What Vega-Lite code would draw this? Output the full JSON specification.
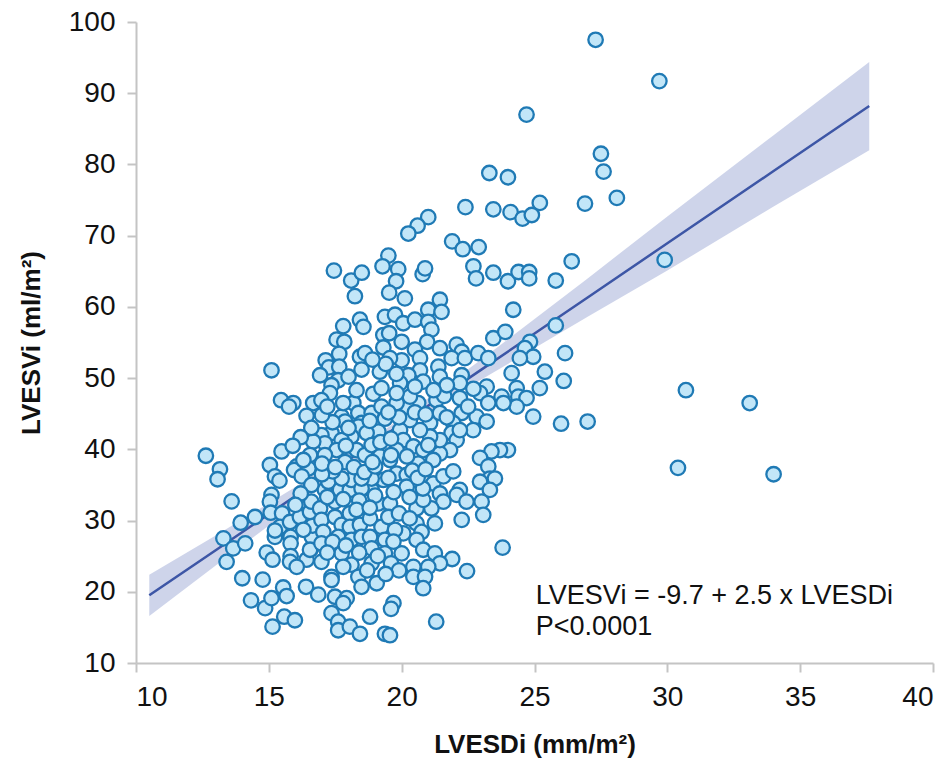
{
  "$schema": "https://vega.github.io/schema/vega-lite/v6.json",
  "width": 797,
  "height": 641,
  "autosize": {"type": "none"},
  "padding": {"left": 136, "top": 22, "right": 19, "bottom": 108},
  "background": "white",
  "config": {
    "view": {"stroke": null},
    "font": "Liberation Sans",
    "axis": {
      "grid": false,
      "domainColor": "#c4c4c4",
      "domainWidth": 2,
      "tickColor": "#c4c4c4",
      "tickWidth": 2,
      "tickSize": 9,
      "labelFont": "Liberation Sans",
      "labelFontSize": 28,
      "labelColor": "#111111",
      "titleFont": "Liberation Sans",
      "titleFontSize": 26,
      "titleFontWeight": "bold",
      "titleColor": "#111111"
    }
  },
  "datasets": {
    "pts": [
      {"x":27.3,"y":97.5},{"x":29.7,"y":91.7},{"x":24.7,"y":87.0},{"x":27.5,"y":81.5},{"x":27.6,"y":79.0},
      {"x":23.3,"y":78.8},{"x":24.0,"y":78.2},{"x":26.9,"y":74.5},{"x":28.1,"y":75.3},{"x":25.2,"y":74.6},
      {"x":23.45,"y":73.7},{"x":24.1,"y":73.3},{"x":24.55,"y":72.4},{"x":24.9,"y":72.9},{"x":22.4,"y":74.0},
      {"x":21.0,"y":72.6},{"x":20.6,"y":71.4},{"x":20.25,"y":70.3},{"x":26.4,"y":66.4},{"x":29.9,"y":66.6},
      {"x":21.9,"y":69.2},{"x":22.3,"y":68.1},{"x":22.9,"y":68.4},{"x":22.7,"y":65.7},{"x":22.8,"y":64.0},
      {"x":23.45,"y":64.8},{"x":24.0,"y":63.6},{"x":24.4,"y":64.9},{"x":24.8,"y":64.9},{"x":24.8,"y":64.0},
      {"x":25.8,"y":63.7},{"x":25.8,"y":57.4},{"x":24.2,"y":59.6},{"x":23.45,"y":55.6},{"x":23.9,"y":56.5},
      {"x":24.83,"y":55.1},{"x":24.64,"y":54.2},{"x":24.95,"y":53.0},{"x":24.45,"y":52.8},{"x":24.14,"y":50.7},
      {"x":25.39,"y":50.9},{"x":26.15,"y":53.5},{"x":26.1,"y":49.6},{"x":23.2,"y":48.8},{"x":22.95,"y":47.9},
      {"x":23.26,"y":46.5},{"x":23.76,"y":47.4},{"x":24.33,"y":48.6},{"x":24.39,"y":47.4},{"x":24.7,"y":47.2},
      {"x":24.33,"y":46.0},{"x":23.83,"y":46.5},{"x":25.2,"y":48.6},{"x":24.95,"y":44.6},{"x":26.0,"y":43.6},
      {"x":27.0,"y":43.9},{"x":30.7,"y":48.3},{"x":33.1,"y":46.5},{"x":30.4,"y":37.4},{"x":34.0,"y":36.5},
      {"x":24.0,"y":39.9},{"x":23.7,"y":39.9},{"x":23.38,"y":39.7},{"x":22.95,"y":38.8},{"x":23.26,"y":37.6},
      {"x":23.32,"y":35.9},{"x":23.51,"y":35.9},{"x":22.95,"y":35.45},{"x":23.32,"y":34.3},{"x":23.01,"y":32.65},
      {"x":23.07,"y":30.8},{"x":23.8,"y":26.2},{"x":22.46,"y":22.9},{"x":21.9,"y":24.6},{"x":21.3,"y":15.8},
      {"x":17.45,"y":65.1},{"x":18.1,"y":63.7},{"x":18.5,"y":64.8},{"x":18.24,"y":61.5},{"x":19.5,"y":67.2},
      {"x":19.28,"y":65.7},{"x":19.87,"y":65.3},{"x":19.79,"y":63.6},{"x":19.53,"y":62.0},{"x":20.12,"y":61.2},
      {"x":20.79,"y":64.6},{"x":20.88,"y":65.4},{"x":18.43,"y":58.2},{"x":18.56,"y":57.2},{"x":17.8,"y":57.3},
      {"x":19.37,"y":58.6},{"x":19.31,"y":56.05},{"x":19.53,"y":56.3},{"x":19.75,"y":58.9},{"x":20.06,"y":57.7},
      {"x":20.5,"y":58.2},{"x":21.0,"y":59.6},{"x":21.44,"y":61.0},{"x":21.5,"y":59.3},{"x":21.0,"y":57.9},
      {"x":21.12,"y":56.8},
      {"x":17.55,"y":55.4},{"x":17.84,"y":55.1},{"x":17.65,"y":53.4},{"x":17.14,"y":52.5},{"x":17.26,"y":51.5},
      {"x":17.65,"y":51.6},{"x":16.93,"y":50.4},{"x":17.61,"y":49.7},{"x":17.36,"y":49.0},{"x":17.3,"y":47.9},
      {"x":18.43,"y":53.0},{"x":18.49,"y":51.2},{"x":18.62,"y":53.5},{"x":19.18,"y":50.9},{"x":19.31,"y":54.3},
      {"x":15.1,"y":51.1},{"x":15.46,"y":46.9},{"x":15.92,"y":46.5},{"x":15.76,"y":46.0},{"x":16.67,"y":46.5},
      {"x":16.98,"y":46.9},{"x":16.42,"y":44.7},{"x":18.93,"y":47.8},{"x":19.24,"y":48.6},{"x":18.18,"y":46.5},
      {"x":18.37,"y":45.1},{"x":17.74,"y":44.6},{"x":17.87,"y":43.9},{"x":18.49,"y":43.7},{"x":18.87,"y":45.1},
      {"x":19.24,"y":46.0},{"x":19.37,"y":44.3},{"x":19.12,"y":42.5},{"x":18.37,"y":43.2},{"x":18.68,"y":42.3},
      {"x":18.11,"y":41.8},{"x":17.36,"y":42.3},{"x":16.98,"y":42.0},{"x":17.11,"y":40.85},{"x":16.67,"y":41.1},
      {"x":17.74,"y":41.3},{"x":17.55,"y":39.9},{"x":17.11,"y":39.2},{"x":17.87,"y":38.2},{"x":18.3,"y":39.9},
      {"x":18.62,"y":39.2},{"x":18.87,"y":40.6},{"x":19.18,"y":39.0},{"x":16.55,"y":39.2},{"x":15.48,"y":39.7},
      {"x":15.04,"y":37.8},{"x":16.05,"y":37.6},{"x":16.49,"y":37.3},
      {"x":20.96,"y":55.1},{"x":20.0,"y":55.1},{"x":21.44,"y":54.2},{"x":20.5,"y":54.0},{"x":22.07,"y":54.7},
      {"x":22.26,"y":53.7},{"x":21.88,"y":52.8},{"x":22.38,"y":52.8},{"x":22.88,"y":53.5},{"x":23.26,"y":52.8},
      {"x":20.69,"y":52.8},{"x":20.0,"y":52.5},{"x":19.56,"y":52.8},{"x":21.38,"y":51.6},{"x":21.44,"y":50.2},
      {"x":20.69,"y":51.1},{"x":20.25,"y":50.4},{"x":19.94,"y":49.3},{"x":20.81,"y":49.5},{"x":22.26,"y":50.4},
      {"x":22.19,"y":49.3},{"x":22.19,"y":47.2},{"x":22.26,"y":45.1},{"x":22.82,"y":44.6},{"x":23.2,"y":43.9},
      {"x":22.69,"y":42.7},{"x":21.94,"y":43.7},{"x":21.88,"y":42.3},{"x":22.07,"y":41.3},{"x":21.82,"y":39.9},
      {"x":21.44,"y":39.4},{"x":21.44,"y":41.3},{"x":21.07,"y":43.7},{"x":21.07,"y":41.8},{"x":20.69,"y":42.7},
      {"x":20.31,"y":44.1},{"x":20.62,"y":46.5},{"x":20.19,"y":46.0},{"x":19.81,"y":46.5},{"x":20.31,"y":47.4},
      {"x":19.81,"y":47.9},{"x":21.31,"y":46.9},{"x":21.44,"y":45.1},{"x":22.19,"y":42.7},{"x":19.94,"y":42.7},
      {"x":20.06,"y":41.3},{"x":20.44,"y":40.4},{"x":20.81,"y":39.9},{"x":21.19,"y":38.5},{"x":20.62,"y":38.0},
      {"x":19.81,"y":39.9},{"x":19.56,"y":38.5},
      {"x":12.63,"y":39.1},{"x":13.16,"y":37.2},{"x":13.07,"y":35.8},{"x":13.6,"y":32.7},{"x":15.23,"y":36.2},
      {"x":15.4,"y":35.6},{"x":15.1,"y":33.6},{"x":15.04,"y":32.65},{"x":15.95,"y":37.1},{"x":16.24,"y":36.2},
      {"x":14.48,"y":30.5},{"x":13.94,"y":29.7},{"x":15.07,"y":31.1},{"x":15.5,"y":31.0},{"x":13.29,"y":27.5},
      {"x":13.66,"y":26.1},{"x":14.11,"y":26.8},{"x":13.41,"y":24.2},{"x":14.92,"y":25.5},{"x":15.14,"y":24.5},
      {"x":15.23,"y":27.7},{"x":15.42,"y":29.1},{"x":15.8,"y":29.8},{"x":16.17,"y":30.5},{"x":15.82,"y":27.7},
      {"x":15.82,"y":26.8},{"x":15.82,"y":25.0},{"x":15.8,"y":24.2},{"x":16.42,"y":24.5},{"x":16.6,"y":26.1},
      {"x":16.62,"y":27.7},{"x":16.65,"y":29.3},{"x":16.74,"y":31.9},{"x":14.0,"y":21.9},{"x":14.77,"y":21.7},
      {"x":15.54,"y":20.6},{"x":15.67,"y":19.4},{"x":14.33,"y":18.8},{"x":14.86,"y":17.7},{"x":15.1,"y":19.1},
      {"x":15.58,"y":16.5},{"x":15.98,"y":16.0},{"x":15.14,"y":15.1},{"x":16.4,"y":20.7},{"x":16.86,"y":19.6},
      {"x":15.23,"y":28.6},{"x":16.05,"y":23.5},{"x":16.55,"y":25.9},{"x":16.55,"y":31.2},{"x":16.6,"y":32.65},
      {"x":16.93,"y":31.7},{"x":16.98,"y":30.1},{"x":17.05,"y":28.4},{"x":16.98,"y":26.8},{"x":16.98,"y":24.2},
      {"x":17.11,"y":34.3},{"x":17.24,"y":35.45},{"x":17.49,"y":32.65},{"x":17.49,"y":30.5},{"x":17.74,"y":29.4},
      {"x":17.61,"y":27.7},{"x":17.74,"y":25.4},{"x":17.36,"y":22.1},{"x":17.68,"y":34.3},{"x":18.05,"y":34.3},
      {"x":18.11,"y":35.7},{"x":18.05,"y":31.0},{"x":18.05,"y":29.1},{"x":18.11,"y":27.3},{"x":18.11,"y":23.8},
      {"x":18.43,"y":29.4},{"x":18.49,"y":27.7},{"x":18.37,"y":22.1},{"x":18.49,"y":20.7},{"x":18.81,"y":30.3},
      {"x":18.81,"y":27.7},{"x":18.87,"y":26.1},{"x":18.87,"y":24.0},{"x":19.06,"y":21.2},{"x":19.12,"y":32.4},
      {"x":19.24,"y":29.1},{"x":19.37,"y":27.3},{"x":19.37,"y":25.4},{"x":19.31,"y":35.7},{"x":18.87,"y":34.3},
      {"x":18.49,"y":34.5},{"x":18.87,"y":35.9},{"x":18.49,"y":35.9},{"x":17.74,"y":35.9},{"x":17.4,"y":36.9},
      {"x":17.49,"y":19.3},{"x":17.93,"y":19.1},{"x":17.8,"y":18.4},{"x":17.36,"y":17.0},{"x":17.61,"y":15.8},
      {"x":17.61,"y":14.6},{"x":18.05,"y":15.1},{"x":18.43,"y":14.1},{"x":18.81,"y":16.5},{"x":19.37,"y":14.1},
      {"x":17.36,"y":21.65},
      {"x":19.81,"y":36.6},{"x":20.19,"y":36.4},{"x":20.4,"y":37.0},{"x":21.19,"y":35.2},{"x":21.57,"y":36.2},
      {"x":21.94,"y":36.9},{"x":21.44,"y":33.8},{"x":21.57,"y":32.65},{"x":22.19,"y":34.3},{"x":22.07,"y":33.6},
      {"x":22.44,"y":32.65},{"x":22.26,"y":30.1},{"x":21.12,"y":31.7},{"x":20.56,"y":31.7},{"x":20.81,"y":32.9},
      {"x":21.25,"y":29.6},{"x":20.56,"y":29.6},{"x":20.75,"y":28.4},{"x":20.56,"y":27.3},{"x":20.81,"y":25.9},
      {"x":21.25,"y":25.4},{"x":21.44,"y":24.0},{"x":21.0,"y":23.5},{"x":20.44,"y":23.5},{"x":20.44,"y":22.1},
      {"x":20.88,"y":22.1},{"x":20.81,"y":20.5},{"x":20.06,"y":28.2},{"x":19.75,"y":28.7},{"x":20.0,"y":25.4},
      {"x":19.56,"y":32.4},{"x":19.69,"y":18.4},{"x":19.6,"y":17.6},{"x":19.56,"y":13.9},{"x":20.19,"y":34.75},
      {"x":19.69,"y":27.05},
      {"x":17.9,"y":40.5},{"x":18.2,"y":37.5},{"x":18.6,"y":36.8},{"x":19.0,"y":37.6},{"x":19.5,"y":36.0},
      {"x":19.7,"y":34.0},{"x":19.0,"y":33.5},{"x":18.4,"y":32.8},{"x":17.8,"y":33.0},{"x":17.2,"y":33.3},
      {"x":17.0,"y":36.5},{"x":16.6,"y":35.0},{"x":16.2,"y":33.8},{"x":16.0,"y":32.2},{"x":16.3,"y":28.7},
      {"x":17.4,"y":27.0},{"x":17.9,"y":26.5},{"x":18.4,"y":25.5},{"x":19.1,"y":25.0},{"x":19.6,"y":24.0},
      {"x":19.9,"y":23.0},{"x":19.4,"y":22.5},{"x":18.7,"y":23.0},{"x":17.8,"y":23.5},{"x":17.2,"y":25.5},
      {"x":18.3,"y":31.5},{"x":18.8,"y":31.8},{"x":19.5,"y":30.5},{"x":19.9,"y":31.0},{"x":20.3,"y":30.3},
      {"x":20.3,"y":33.3},{"x":20.8,"y":34.5},{"x":20.6,"y":36.0},{"x":19.2,"y":41.0},{"x":19.6,"y":41.5},
      {"x":19.9,"y":44.5},{"x":19.5,"y":45.2},{"x":18.8,"y":44.0},{"x":18.0,"y":43.0},{"x":17.4,"y":43.8},
      {"x":17.0,"y":44.8},{"x":16.6,"y":43.0},{"x":16.2,"y":41.7},{"x":15.9,"y":40.5},{"x":16.3,"y":38.5},
      {"x":17.0,"y":38.0},{"x":17.5,"y":37.5},{"x":18.9,"y":38.2},{"x":19.6,"y":39.2},{"x":20.2,"y":39.0},
      {"x":20.9,"y":37.2},{"x":21.0,"y":40.6},{"x":20.5,"y":45.2},{"x":20.9,"y":44.9},{"x":21.7,"y":44.5},
      {"x":21.6,"y":47.5},{"x":21.7,"y":49.0},{"x":22.5,"y":46.0},{"x":22.7,"y":48.5},{"x":21.2,"y":48.3},
      {"x":20.5,"y":48.8},{"x":19.8,"y":50.6},{"x":19.4,"y":52.0},{"x":18.9,"y":52.6},{"x":18.0,"y":50.2},
      {"x":18.3,"y":48.3},{"x":17.8,"y":46.5},{"x":17.2,"y":46.0}
    ],
    "band": [
      {"x":10.5,"lo":16.6,"hi":22.4,"fit":19.5},
      {"x":13,"lo":23.7,"hi":27.9,"fit":25.84},
      {"x":16,"lo":32.1,"hi":34.7,"fit":33.44},
      {"x":19.5,"lo":41.5,"hi":43.1,"fit":42.32},
      {"x":23,"lo":49.8,"hi":52.6,"fit":51.19},
      {"x":27,"lo":58.6,"hi":64.0,"fit":61.33},
      {"x":30,"lo":65.1,"hi":72.7,"fit":68.93},
      {"x":34,"lo":74.1,"hi":84.1,"fit":79.07},
      {"x":37.6,"lo":82.0,"hi":94.4,"fit":88.2}
    ],
    "notes": [
      {"label": "LVESVi = -9.7 + 2.5 x LVESDi", "line": 1},
      {"label": "P<0.0001", "line": 2}
    ]
  },
  "layer": [
    {
      "data": {"name": "band"},
      "mark": {"type": "area", "color": "#c9cfe8", "opacity": 0.9},
      "encoding": {
        "x": {"field": "x", "type": "quantitative", "scale": {"domain": [10, 40], "nice": false, "zero": false},
              "axis": {"values": [10,15,20,25,30,35,40], "title": "LVESDi (mm/m²)", "labelPadding": 11, "titlePadding": 20}},
        "y": {"field": "lo", "type": "quantitative", "scale": {"domain": [10, 100], "nice": false, "zero": false},
              "axis": {"values": [10,20,30,40,50,60,70,80,90,100], "title": "LVESVi (ml/m²)", "labelPadding": 12, "titlePadding": 24}},
        "y2": {"field": "hi"}
      }
    },
    {
      "data": {"name": "band"},
      "mark": {"type": "line", "color": "#3d56a6", "strokeWidth": 2.5},
      "encoding": {
        "x": {"field": "x", "type": "quantitative"},
        "y": {"field": "fit", "type": "quantitative"}
      }
    },
    {
      "data": {"name": "pts"},
      "mark": {"type": "point", "shape": "circle", "filled": false, "fill": "#c2e6f8", "fillOpacity": 1, "stroke": "#1f7ab5", "strokeWidth": 2.3, "size": 210, "opacity": 1},
      "encoding": {
        "x": {"field": "x", "type": "quantitative"},
        "y": {"field": "y", "type": "quantitative"}
      }
    },
    {
      "data": {"name": "notes"},
      "transform": [{"filter": "datum.line == 1"}],
      "mark": {"type": "text", "align": "left", "baseline": "middle", "fontSize": 27, "font": "Liberation Sans", "color": "#111111"},
      "encoding": {
        "x": {"datum": 25.05, "type": "quantitative"},
        "y": {"datum": 19.4, "type": "quantitative"},
        "text": {"field": "label"}
      }
    },
    {
      "data": {"name": "notes"},
      "transform": [{"filter": "datum.line == 2"}],
      "mark": {"type": "text", "align": "left", "baseline": "middle", "fontSize": 27, "font": "Liberation Sans", "color": "#111111"},
      "encoding": {
        "x": {"datum": 25.05, "type": "quantitative"},
        "y": {"datum": 15.0, "type": "quantitative"},
        "text": {"field": "label"}
      }
    }
  ]
}
